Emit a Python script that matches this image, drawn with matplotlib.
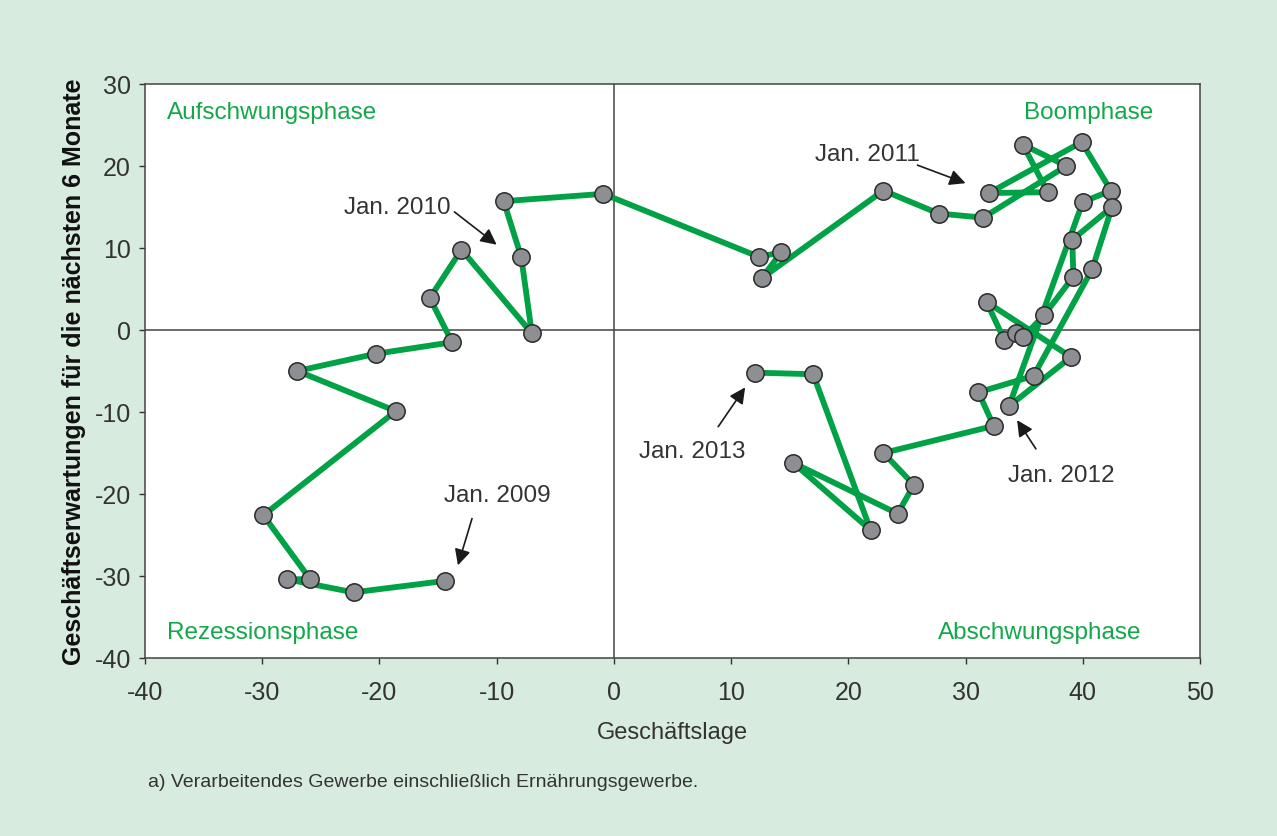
import matplotlib
matplotlib.use("Agg")
import matplotlib.pyplot as plt

# ── data: monthly path (Geschäftslage, Erwartungen), Jan 2009 -> Jan 2013 ──
lage = [-14.4, -22.2, -27.9, -25.9, -29.9, -18.6, -27.0, -20.3, -13.8, -15.7,
        -13.0, -7.0, -7.9, -9.4, -0.9, 12.4, 14.3, 12.6, 23.0, 27.7,
        31.5, 38.6, 34.9, 37.0, 32.0, 39.9, 42.4, 40.0, 33.7, 39.0,
        31.8, 33.3, 34.3, 34.9, 36.7, 39.2, 39.1, 42.5, 40.8, 35.8,
        31.1, 32.4, 23.0, 25.6, 24.2, 15.3, 21.9, 17.0, 12.0]
erwartung = [-30.6, -32.0, -30.4, -30.4, -22.6, -9.9, -5.0, -2.9, -1.5, 3.9,
             9.8, -0.4, 8.9, 15.7, 16.6, 8.9, 9.5, 6.3, 17.0, 14.2,
             13.7, 20.0, 22.6, 16.8, 16.7, 22.9, 17.0, 15.6, -9.3, -3.3,
             3.4, -1.2, -0.4, -0.9, 1.8, 6.5, 11.0, 15.0, 7.4, -5.6,
             -7.6, -11.7, -15.0, -18.9, -22.4, -16.2, -24.4, -5.4, -5.2]

quadrants = ["Aufschwungsphase", "Boomphase", "Rezessionsphase", "Abschwungsphase"]

ann_labels = ["Jan. 2009", "Jan. 2010", "Jan. 2011", "Jan. 2012", "Jan. 2013"]
ann_text_xy = [(-9.9, -20.1), (-18.5, 15.0), (21.6, 21.5), (38.2, -17.7), (6.7, -14.8)]
ann_tail_xy = [(-12.1, -23.0), (-13.6, 14.4), (25.9, 20.1), (36.0, -14.5), (8.9, -11.8)]
ann_tip_xy = [(-13.3, -28.7), (-10.0, 10.4), (30.0, 17.9), (34.4, -11.0), (11.2, -7.0)]

# ── colours ──
BG = "#d8ebdf"
GREEN = "#00a245"
GREEN_TXT = "#12a84a"
GRAY = "#8e8f93"
TXT = "#333333"

plt.rcParams["font.family"] = ["Liberation Sans", "DejaVu Sans"]
plt.rcParams["axes.unicode_minus"] = False

fig = plt.figure(figsize=(12.77, 8.37), dpi=100, facecolor=BG)
ax = fig.add_axes([0.1135, 0.2127, 0.8262, 0.6858])
ax.set_facecolor("white")

ax.axhline(0, color="#444444", lw=1.1, zorder=1)
ax.axvline(0, color="#444444", lw=1.1, zorder=1)

ax.plot(lage, erwartung, color=GREEN, lw=4.2, zorder=2, solid_joinstyle="round")
ax.plot(lage, erwartung, ls="none", marker="o", ms=12.5, mfc=GRAY,
        mec="#2a2a2a", mew=1.1, zorder=3)

ax.set_xlim(-40, 50)
ax.set_ylim(-40, 30)
ax.set_xticks(range(-40, 51, 10))
ax.set_yticks(range(-40, 31, 10))
ax.tick_params(labelsize=18, colors=TXT, length=4, width=1)
ax.tick_params(axis="x", pad=12)
ax.tick_params(axis="y", pad=6)
for s in ax.spines.values():
    s.set_color("#444444")
    s.set_linewidth(1.1)

ax.set_xlabel("Geschäftslage", fontsize=17, color=TXT, labelpad=12)
ax.set_ylabel("Geschäftserwartungen für die nächsten 6 Monate", fontsize=18,
              fontweight="bold", color="#111111", labelpad=6)

# quadrant labels
ax.text(-38.1, 26.6, quadrants[0], color=GREEN_TXT, fontsize=17.5, ha="left", va="center")
ax.text(46.0, 26.6, quadrants[1], color=GREEN_TXT, fontsize=17.5, ha="right", va="center")
ax.text(-38.1, -36.8, quadrants[2], color=GREEN_TXT, fontsize=17.5, ha="left", va="center")
ax.text(45.0, -36.8, quadrants[3], color=GREEN_TXT, fontsize=17.5, ha="right", va="center")

# date annotations
for lab, txy, tail, tip in zip(ann_labels, ann_text_xy, ann_tail_xy, ann_tip_xy):
    ax.text(txy[0], txy[1], lab, fontsize=17.5, color=TXT, ha="center", va="center")
    ax.annotate("", xy=tip, xytext=tail,
                arrowprops=dict(arrowstyle="-|>", color="#1a1a1a", lw=1.2,
                                mutation_scale=24, shrinkA=0, shrinkB=0))

fig.text(148 / 1277, 1 - 783 / 837,
         "a) Verarbeitendes Gewerbe einschließlich Ernährungsgewerbe.",
         fontsize=14, color=TXT, ha="left", va="center")

fig.savefig("out.png", dpi=100, facecolor=BG)
